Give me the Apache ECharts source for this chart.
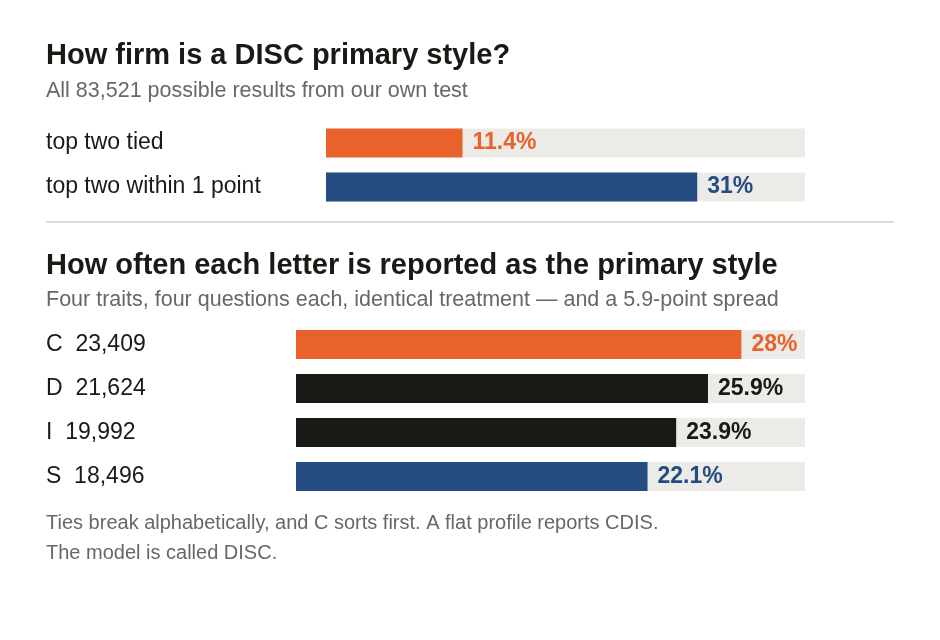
<!DOCTYPE html>
<html>
<head>
<meta charset="utf-8">
<script src="https://cdn.jsdelivr.net/npm/echarts@6/dist/echarts.min.js"></script>
<style>
  html, body { margin: 0; padding: 0; background: #ffffff; }
  #chart { width: 940px; height: 640px; }
</style>
</head>
<body>
<div id="chart"></div>
<script>
// top panel: how firm is the primary style
var firmCategories = ['top two tied', 'top two within 1 point'];
var firmValues = [11.4, 31];
var firmColors = ['#e9622b', '#244c82'];

// bottom panel: primary letter frequency
var letters = ['C', 'D', 'I', 'S'];
var letterCounts = ['23,409', '21,624', '19,992', '18,496'];
var letterValues = [28, 25.9, 23.9, 22.1];
var letterColors = ['#e9622b', '#1b1915', '#1b1915', '#244c82'];

var FONT = 'Liberation Sans';
var TRACK = '#ecebe7';
var INK = '#1b1915';
var GREY = '#6b6661';

function makeData(values, colors) {
    var out = [];
    for (var i = 0; i < values.length; i++) {
        out.push({
            value: values[i],
            itemStyle: { color: colors[i] },
            label: { color: colors[i] }
        });
    }
    return out;
}

var letterLabels = [];
for (var i = 0; i < letters.length; i++) {
    letterLabels.push(letters[i] + '  ' + letterCounts[i]);
}

var barLabel = {
    show: true,
    position: 'right',
    distance: 10,
    fontFamily: FONT,
    fontWeight: 'bold',
    fontSize: 23,
    formatter: '{c}%'
};

// text centred vertically on y
function txt(x, y, s, size, color, weight) {
    return {
        type: 'text', x: x, y: y,
        style: {
            text: s, fill: color, fontSize: size, fontFamily: FONT,
            fontWeight: weight || 'normal', verticalAlign: 'middle', align: 'left'
        }
    };
}

var option = {
    animation: false,
    backgroundColor: '#ffffff',
    grid: [
        { left: 326, right: 135, top: 121, height: 88 },
        { left: 296, right: 135, top: 322.5, height: 176 }
    ],
    xAxis: [
        { gridIndex: 0, type: 'value', min: 0, max: 40, show: false },
        { gridIndex: 1, type: 'value', min: 0, max: 32, show: false }
    ],
    yAxis: [
        {
            gridIndex: 0, type: 'category', inverse: true, data: firmCategories,
            axisLine: { show: false }, axisTick: { show: false },
            axisLabel: { align: 'left', margin: 280, color: INK, fontSize: 23, fontFamily: FONT }
        },
        {
            gridIndex: 1, type: 'category', inverse: true, data: letterLabels,
            axisLine: { show: false }, axisTick: { show: false },
            axisLabel: { align: 'left', margin: 250, color: INK, fontSize: 23, fontFamily: FONT }
        }
    ],
    series: [
        {
            type: 'bar', xAxisIndex: 0, yAxisIndex: 0, barWidth: 29,
            showBackground: true, backgroundStyle: { color: TRACK },
            data: makeData(firmValues, firmColors),
            label: barLabel
        },
        {
            type: 'bar', xAxisIndex: 1, yAxisIndex: 1, barWidth: 29,
            showBackground: true, backgroundStyle: { color: TRACK },
            data: makeData(letterValues, letterColors),
            label: barLabel
        }
    ],
    graphic: [
        txt(46, 56, 'How firm is a DISC primary style?', 29, INK, 'bold'),
        txt(46, 91.5, 'All 83,521 possible results from our own test', 21.5, GREY),
        { type: 'rect', shape: { x: 46, y: 221, width: 848, height: 2 }, style: { fill: '#dcdcd9' } },
        txt(46, 266, 'How often each letter is reported as the primary style', 29, INK, 'bold'),
        txt(46, 300.5, 'Four traits, four questions each, identical treatment \u2014 and a 5.9-point spread', 21.5, GREY),
        txt(46, 523, 'Ties break alphabetically, and C sorts first. A flat profile reports CDIS.', 20, GREY),
        txt(46, 553, 'The model is called DISC.', 20, GREY)
    ]
};

var myChart = echarts.init(document.getElementById('chart'));
myChart.setOption(option);
</script>
</body>
</html>
